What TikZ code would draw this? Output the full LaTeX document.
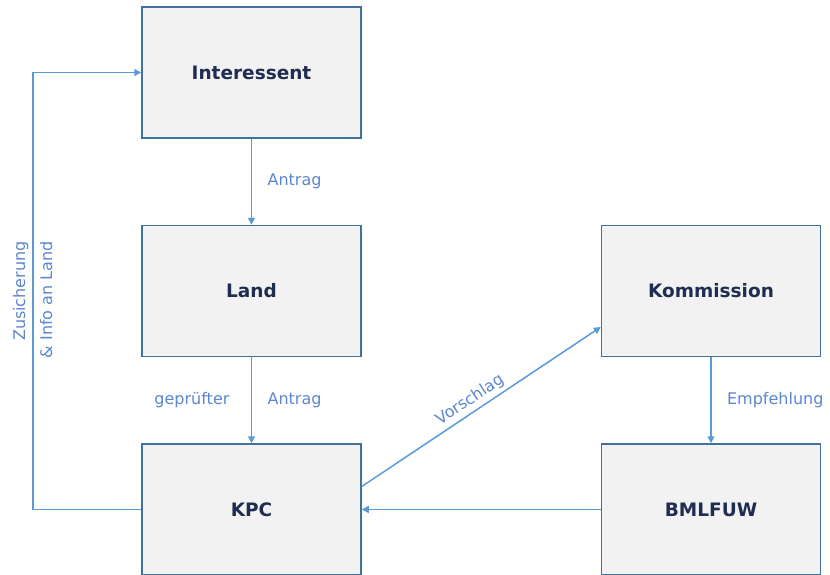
\documentclass[tikz,border=0pt]{standalone}
\usepackage{fontspec}
\setmainfont{DejaVu Sans}
\usetikzlibrary{arrows.meta,positioning}

\definecolor{boxline}{HTML}{41719C}
\definecolor{boxfill}{HTML}{F2F2F2}
\definecolor{boxtext}{HTML}{1F2D50}
\definecolor{flowline}{HTML}{5B9BD5}
\definecolor{flowtext}{HTML}{5B86D0}

\begin{document}
\begin{tikzpicture}[
    > = {Triangle[length=7pt,width=7pt]}, % arrow head style
    shorten > = 0pt, % arrow head touches the box
    node distance = 86pt and 239pt, % distance between boxes
    semithick % line style
    ]

    \tikzset{
    box/.style = {
    draw = boxline,
    fill = boxfill,
    line width = 1.5pt,
    minimum width = 219pt,
    minimum height = 131pt,
    text = boxtext,
    font = \fontsize{18.5}{22}\selectfont\bfseries
    },
    flow/.style = {->, draw = flowline, line width = 1.5pt},
    lbl/.style = {text = flowtext, font = \fontsize{16}{19}\selectfont}
    }

    \useasboundingbox (0pt,0pt) rectangle (830pt,-575pt);
    \clip (0pt,0pt) rectangle (830pt,-575pt);

    \node[box] (interessent) at (251.5pt,-72.5pt) {Interessent};
    \node[box, below=of interessent] (land) {Land};
    \node[box, below=of land] (kpc) {KPC};
    \node[box, right=of land] (kommission) {Kommission};
    \node[box, below=of kommission] (bmlfuw) {BMLFUW};

    \draw[flow] (interessent) -- node[lbl, right=12pt] {Antrag} (land);
    \draw[flow] (land) -- node[lbl, left=18pt] {geprüfter}
                          node[lbl, right=12pt] {Antrag} (kpc);
    \draw[flow] (kommission) -- node[lbl, right=12pt] {Empfehlung} (bmlfuw);
    \draw[flow] (bmlfuw) -- (kpc);
    \draw[flow] ([yshift=23pt]kpc.east) -- node[lbl, sloped, above, pos=0.48] {Vorschlag}
                ([yshift=-36pt]kommission.west);
    \draw[flow] (kpc.west) -- ++(-108.5pt,0pt)
                |- node[lbl, rotate=90, align=right, pos=0.24] {Zusicherung\\[8pt]\& Info an Land}
                (interessent.west);
\end{tikzpicture}
\end{document}
